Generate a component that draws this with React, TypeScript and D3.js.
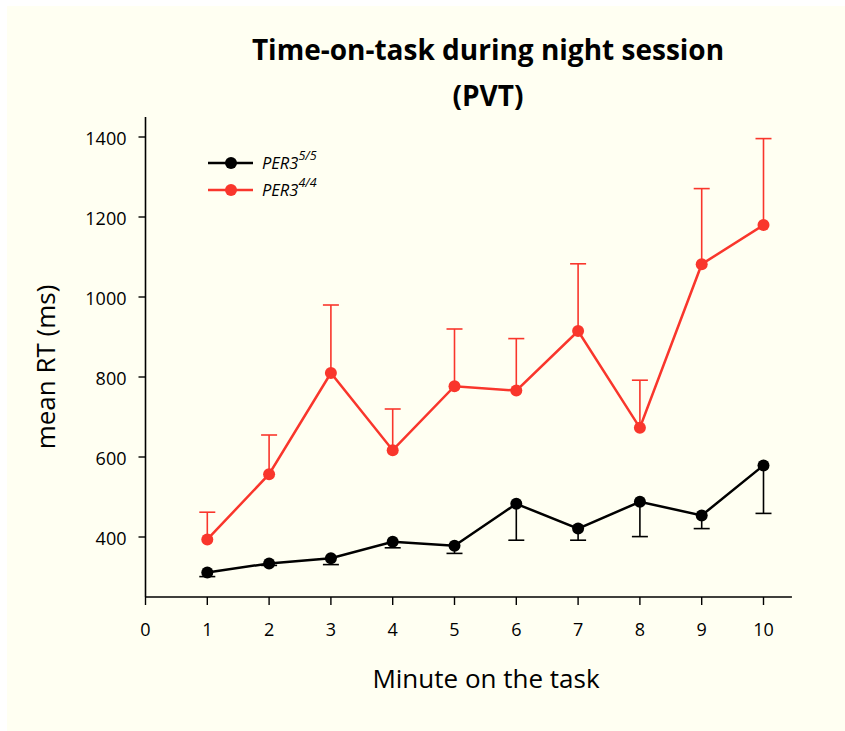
import React from "react";
import * as d3 from "d3";

// Minute on the task
const minutes = [1, 2, 3, 4, 5, 6, 7, 8, 9, 10];

// PER3 5/5: mean RT and lower error bound (ms)
const per55Mean = [311, 334, 347, 388, 378, 483, 421, 488, 454, 579];
const per55Low = [301, 329, 331, 373, 359, 392, 392, 401, 421, 459];

// PER3 4/4: mean RT and upper error bound (ms)
const per44Mean = [394, 557, 810, 617, 777, 766, 915, 673, 1082, 1180];
const per44High = [462, 655, 980, 720, 920, 896, 1083, 792, 1271, 1396];

const xTicks = [0, 1, 2, 3, 4, 5, 6, 7, 8, 9, 10];
const yTicks = [400, 600, 800, 1000, 1200, 1400];

const W = 845;
const H = 731;
const RED = "#f9362c";
const FONT = "'Open Sans', Lato, sans-serif";

export default function App() {
  const x = d3.scaleLinear().domain([0, 10]).range([145.5, 763.5]);
  const y = d3.scaleLinear().domain([250, 1450]).range([597, 117]);
  const xEnd = 10.46;

  const line = d3
    .line<number>()
    .x((_, i) => x(minutes[i]))
    .y((d) => y(d));

  const cap = 8;

  return (
    <svg
      width={W}
      height={H}
      style={{ position: "absolute", left: 0, top: 0, display: "block" }}
      fontFamily={FONT}
    >
      <rect x={0} y={0} width={W} height={H} fill="#ffffff" />
      <rect x={7} y={6} width={W - 7} height={H - 6} fill="#fffff2" />

      {/* Title */}
      <text x={488} y={60} textAnchor="middle" fontSize={28} fontWeight="bold" fill="#000">
        Time-on-task during night session
      </text>
      <text x={488} y={106} textAnchor="middle" fontSize={28} fontWeight="bold" fill="#000">
        (PVT)
      </text>

      {/* Y axis */}
      <line x1={x(0)} x2={x(0)} y1={y(1450)} y2={y(250)} stroke="#000" strokeWidth={1.6} />
      {yTicks.map((t) => (
        <g key={t}>
          <line x1={x(0) - 7} x2={x(0)} y1={y(t)} y2={y(t)} stroke="#000" strokeWidth={1.4} />
          <text x={x(0) - 19} y={y(t) + 8} textAnchor="end" fontSize={18} fill="#000">
            {t}
          </text>
        </g>
      ))}
      <text
        transform={`translate(55, ${367}) rotate(-90)`}
        textAnchor="middle"
        fontSize={26}
        fill="#000"
      >
        mean RT (ms)
      </text>

      {/* X axis */}
      <line x1={x(0)} x2={x(xEnd)} y1={y(250)} y2={y(250)} stroke="#000" strokeWidth={1.6} />
      {xTicks.map((t) => (
        <g key={t}>
          <line x1={x(t)} x2={x(t)} y1={y(250)} y2={y(250) + 8} stroke="#000" strokeWidth={1.4} />
          <text x={x(t)} y={636} textAnchor="middle" fontSize={18} fill="#000">
            {t}
          </text>
        </g>
      ))}
      <text x={486} y={688} textAnchor="middle" fontSize={26} fill="#000">
        Minute on the task
      </text>

      {/* PER3 4/4 error bars (upper) */}
      {minutes.map((m, i) => (
        <g key={`re${m}`} stroke={RED} strokeWidth={1.6}>
          <line x1={x(m)} x2={x(m)} y1={y(per44Mean[i])} y2={y(per44High[i])} />
          <line x1={x(m) - cap} x2={x(m) + cap} y1={y(per44High[i])} y2={y(per44High[i])} />
        </g>
      ))}

      {/* PER3 5/5 error bars (lower) */}
      {minutes.map((m, i) => (
        <g key={`be${m}`} stroke="#000" strokeWidth={1.6}>
          <line x1={x(m)} x2={x(m)} y1={y(per55Mean[i])} y2={y(per55Low[i])} />
          <line x1={x(m) - cap} x2={x(m) + cap} y1={y(per55Low[i])} y2={y(per55Low[i])} />
        </g>
      ))}

      {/* Series lines */}
      <path d={line(per44Mean) || ""} fill="none" stroke={RED} strokeWidth={2.5} />
      <path d={line(per55Mean) || ""} fill="none" stroke="#000" strokeWidth={2.5} />

      {minutes.map((m, i) => (
        <circle key={`rp${m}`} cx={x(m)} cy={y(per44Mean[i])} r={6} fill={RED} />
      ))}
      {minutes.map((m, i) => (
        <circle key={`bp${m}`} cx={x(m)} cy={y(per55Mean[i])} r={6} fill="#000" />
      ))}

      {/* Legend */}
      <g>
        <line x1={208} x2={253} y1={163} y2={163} stroke="#000" strokeWidth={2.5} />
        <circle cx={231} cy={163} r={6} fill="#000" />
        <text x={262} y={169} fontSize={16.5} fontStyle="italic" fill="#000">
          PER3
          <tspan dy={-9} fontSize={12.5}>5/5</tspan>
        </text>
        <line x1={208} x2={253} y1={190} y2={190} stroke={RED} strokeWidth={2.5} />
        <circle cx={231} cy={190} r={6} fill={RED} />
        <text x={262} y={196} fontSize={16.5} fontStyle="italic" fill="#000">
          PER3
          <tspan dy={-9} fontSize={12.5}>4/4</tspan>
        </text>
      </g>
    </svg>
  );
}
